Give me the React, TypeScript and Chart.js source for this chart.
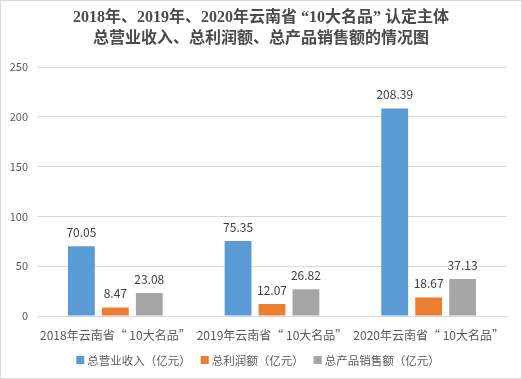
import React, { useEffect, useRef } from "react";
import { Chart, registerables } from "chart.js";
Chart.register(...registerables);

const categories = ["2018年云南省“ 10大名品”", "2019年云南省“ 10大名品”", "2020年云南省“ 10大名品”"];
const revenue = [70.05, 75.35, 208.39];
const profit = [8.47, 12.07, 18.67];
const sales = [23.08, 26.82, 37.13];
const seriesNames = ["总营业收入（亿元）", "总利润额（亿元）", "总产品销售额（亿元）"];
const titleLines = ["2018年、2019年、2020年云南省 “10大名品” 认定主体", "总营业收入、总利润额、总产品销售额的情况图"];
const colors = ["#5b9bd5", "#ed7d31", "#a5a5a5"];

const FONT = "'Noto Sans CJK SC', 'Liberation Sans', sans-serif";
const TITLE_FONT = "bold 16px 'Liberation Serif', 'Noto Sans CJK SC', serif";

const decorPlugin = {
  id: "decor",
  afterDatasetsDraw(chart: any) {
    const ctx = chart.ctx;
    ctx.save();
    ctx.font = `12px ${FONT}`;
    ctx.fillStyle = "#404040";
    ctx.textAlign = "center";
    ctx.textBaseline = "middle";
    chart.data.datasets.forEach((ds: any, i: number) => {
      const meta = chart.getDatasetMeta(i);
      meta.data.forEach((bar: any, j: number) => {
        ctx.fillText(ds.data[j].toFixed(2), bar.x, bar.y - 14);
      });
    });
    ctx.font = TITLE_FONT;
    ctx.fillStyle = "#4a4a4a";
    ctx.fillText(titleLines[0], chart.width / 2, 17);
    ctx.fillText(titleLines[1], chart.width / 2, 38);
    ctx.font = `11.5px ${FONT}`;
    ctx.textAlign = "left";
    const box = 8, gapT = 3, gapI = 10;
    const widths = seriesNames.map((s) => ctx.measureText(s).width);
    const total = widths.reduce((a, w) => a + box + gapT + w, 0) + gapI * (seriesNames.length - 1);
    let x = 257 - total / 2;
    const y = 359;
    seriesNames.forEach((s, i) => {
      ctx.fillStyle = colors[i];
      ctx.fillRect(x, y - box / 2, box, box);
      ctx.fillStyle = "#595959";
      ctx.fillText(s, x + box + gapT, y + 1);
      x += box + gapT + widths[i] + gapI;
    });
    ctx.restore();
  },
};

export default function App() {
  const ref = useRef<HTMLCanvasElement>(null);
  useEffect(() => {
    const chart = new Chart(ref.current!, {
      type: "bar",
      data: {
        labels: categories,
        datasets: [revenue, profit, sales].map((d, i) => ({
          label: seriesNames[i],
          data: d,
          backgroundColor: colors[i],
          categoryPercentage: 0.65,
          barPercentage: 0.79,
        })),
      },
      options: {
        animation: false,
        responsive: false,
        layout: { padding: { left: 6, right: 14, top: 66, bottom: 36 } },
        plugins: {
          title: { display: false },
          legend: { display: false },
          tooltip: { enabled: false },
        },
        scales: {
          x: {
            grid: { display: false },
            border: { color: "#d9d9d9" },
            ticks: { color: "#595959", font: { family: FONT, size: 12, lineHeight: 1.2 }, maxRotation: 0, autoSkip: false, padding: 4 },
            afterFit: (s: any) => { s.height = 26; },
          },
          y: {
            min: 0,
            max: 250,
            ticks: { stepSize: 50, color: "#595959", font: { family: FONT, size: 11 }, padding: 9 },
            grid: { color: "#d9d9d9", drawTicks: false },
            border: { display: false },
            afterFit: (s: any) => { s.width = 30; },
          },
        },
      },
      plugins: [decorPlugin],
    });
    return () => chart.destroy();
  }, []);
  return (
    <div style={{ position: "fixed", left: 0, top: 0, width: 522, height: 379, boxSizing: "border-box", border: "1px solid #d9d9d9", background: "#fff" }}>
      <canvas ref={ref} width={520} height={377} />
    </div>
  );
}
